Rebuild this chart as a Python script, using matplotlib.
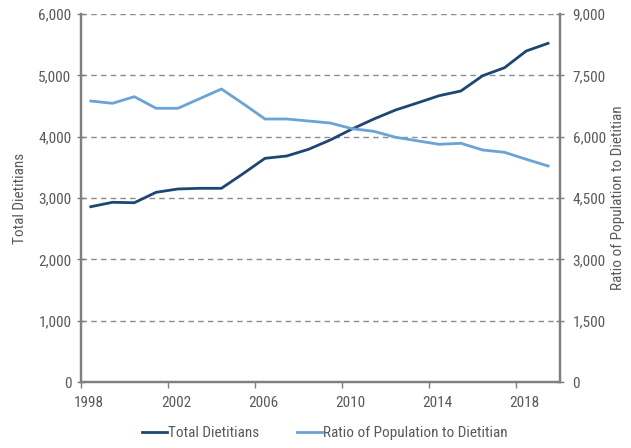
import matplotlib
matplotlib.use("Agg")
import matplotlib.pyplot as plt
from matplotlib import font_manager
import matplotlib.transforms as mtransforms
import numpy as np

years = list(range(1998, 2020))
total_dietitians = [2858, 2930, 2923, 3093, 3147, 3158, 3158, 3398, 3647, 3685, 3794,
                    3946, 4125, 4288, 4435, 4550, 4668, 4745, 4994, 5124, 5397, 5522]
ratio_pop = [6872, 6816, 6978, 6694, 6694, 6929, 7166, 6806, 6432, 6432, 6383,
             6334, 6195, 6131, 5985, 5899, 5813, 5838, 5674, 5618, 5447, 5283]
x_ticks = [1998, 2002, 2006, 2010, 2014, 2018]
left_ticks = [0, 1000, 2000, 3000, 4000, 5000, 6000]
right_ticks = [0, 1500, 3000, 4500, 6000, 7500, 9000]

names = {f.name for f in font_manager.fontManager.ttflist}
fam = [f for f in ["Liberation Sans Narrow", "Roboto Condensed", "DejaVu Sans Condensed", "DejaVu Sans"] if f in names]
if "DejaVu Sans" not in fam:
    fam.append("DejaVu Sans")
plt.rcParams['font.family'] = fam

TXT = "#595959"
AX = "#7f7f7f"
DARK = "#1c4673"
LIGHT = "#6aa3d6"

fig = plt.figure(figsize=(6.31, 4.48), dpi=100)
ax = fig.add_axes([81/631, 66/448, (560-81)/631, (382-14)/448])
ax2 = ax.twinx()

xs = [y + 0.45 for y in years]
l1, = ax.plot(xs, total_dietitians, color=DARK, lw=2.0, label="Total Dietitians", zorder=3)
l2, = ax2.plot(xs, ratio_pop, color=LIGHT, lw=2.0, label="Ratio of Population to Dietitian", zorder=3)

ax.set_xlim(1998, 2020)
ax.set_ylim(0, 6000)
ax2.set_ylim(0, 9000)
ax.set_yticks(left_ticks)
ax2.set_yticks(right_ticks)
ax.set_yticklabels([f"{v:,}" for v in left_ticks])
ax2.set_yticklabels([f"{v:,}" for v in right_ticks])
ax.set_xticks(x_ticks)
ax.set_xticklabels([str(v) for v in x_ticks])

for v in left_ticks[1:]:
    ax.axhline(v, color="#8c8c8c", lw=1.0, ls=(0, (4, 3)), zorder=1)

for a in (ax, ax2):
    a.spines['top'].set_visible(False)
    for s in ('left', 'right', 'bottom'):
        a.spines[s].set_color(AX)
        a.spines[s].set_linewidth(1.6)
    a.tick_params(colors=AX, labelcolor=TXT, labelsize=11, length=6, width=1.0, direction='inout')
ax.tick_params(axis='x', direction='out', length=4, pad=6)
ax.tick_params(axis='y', pad=4)
ax2.tick_params(axis='y', pad=6)

offset = mtransforms.ScaledTranslation(8/100, 0, fig.dpi_scale_trans)
for lab in ax.get_xticklabels():
    lab.set_transform(lab.get_transform() + offset)

ax.set_ylabel("Total Dietitians", color=TXT, fontsize=11, labelpad=8)
ax2.set_ylabel("Ratio of Population to Dietitian", color=TXT, fontsize=11, labelpad=4)

fig.legend(handles=[l1, l2], loc='center', bbox_to_anchor=(325/631, 15/448), ncol=2,
           frameon=False, fontsize=11, handlelength=1.6, handletextpad=0.1, columnspacing=2.5,
           labelcolor=TXT)

fig.savefig("out.png", dpi=100)
